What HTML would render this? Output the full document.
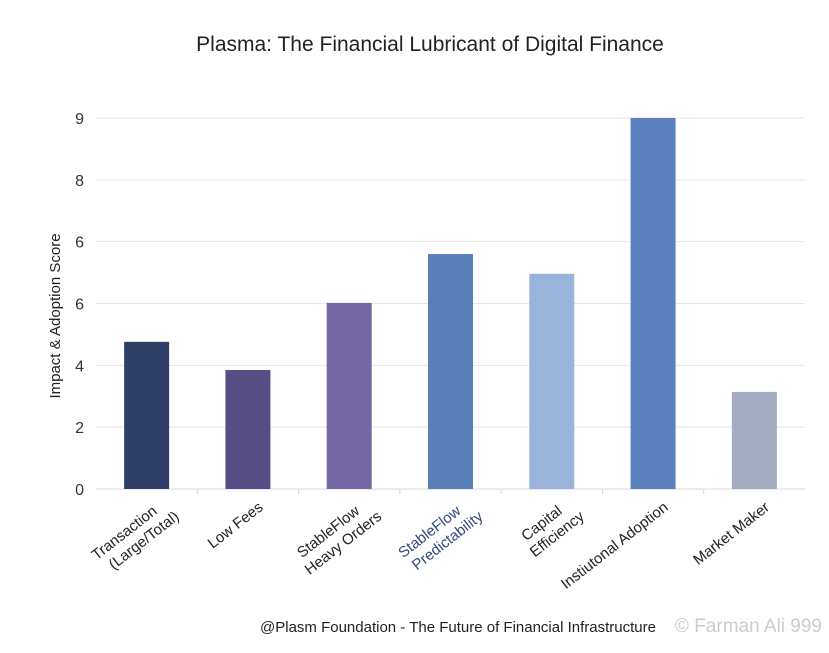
<!DOCTYPE html>
<html><head><meta charset="utf-8"><style>
body{margin:0;background:#fff;width:829px;height:648px;overflow:hidden;font-family:"Liberation Sans",sans-serif}
</style></head><body>
<svg width="829" height="648" xmlns="http://www.w3.org/2000/svg">
<text x="430" y="51" text-anchor="middle" font-size="21" fill="#222">Plasma: The Financial Lubricant of Digital Finance</text>
<text transform="translate(60,316) rotate(-90)" text-anchor="middle" font-size="15" fill="#222">Impact &amp; Adoption Score</text>
<g id="grid"></g><g id="bars"></g><g id="xl"></g>
<text x="458" y="632" text-anchor="middle" font-size="15" fill="#222">@Plasm Foundation - The Future of Financial Infrastructure</text>
<text x="822" y="632" text-anchor="end" font-size="19" fill="#ccc">© Farman Ali 999</text>
</svg>
<script>
const categories=[["Transaction","(Large/Total)"],["Low Fees"],["StableFlow","Heavy Orders"],["StableFlow","Predictability"],["Capital","Efficiency"],["Instiutonal Adoption"],["Market Maker"]];
const values=[4.76,3.85,6.02,7.6,6.96,12,3.14];
const colors=["#2e4068","#574e86","#7567a3","#5a7fb8","#98b4da","#5b80bd","#a2abc0"];
const tickValues=[0,2,4,6,8,10,12];
const tickLabels=["0","2","4","6","6","8","9"];
const NS="http://www.w3.org/2000/svg";
const x0=96,x1=805,y0=489,y1=118,yMax=12;
const y=v=>y0-(v/yMax)*(y0-y1);
const band=(x1-x0)/categories.length;
const xc=i=>x0+band*(i+0.5);
function mk(t,a,p){const e=document.createElementNS(NS,t);for(const k in a)e.setAttribute(k,a[k]);p.appendChild(e);return e;}
const g=document.getElementById('grid'),b=document.getElementById('bars'),xl=document.getElementById('xl');
tickValues.forEach((v,i)=>{
 const l=mk('line',{x1:x0,x2:x1,y1:y(v),y2:y(v),stroke:i==0?'#d8d8d8':'#e6e6e6','stroke-width':1},g);
 
 
 const t=mk('text',{x:84,y:y(v)+6,'text-anchor':'end','font-size':16,fill:'#333'},g);
 t.textContent=tickLabels[i];
 
 
});
for(let i=1;i<categories.length;i++){
 const tk=mk('line',{x1:x0+band*i,x2:x0+band*i,y1:y0,y2:y0+5,stroke:'#d8d8d8'},g);
 
 
}
const bw=45;
values.forEach((v,i)=>{
 const r=mk('rect',{x:xc(i)-bw/2,y:y(v),width:bw,height:y0-y(v),fill:colors[i]},b);
 
 
 const lines=categories[i];
 const t=mk('text',{transform:`translate(${xc(i)+16},${y0+20}) rotate(-38)`,'text-anchor':'end','font-size':15,fill:i==3?'#2f4a7a':'#222'},xl);
 
 
 lines.forEach((s,j)=>{const ts=mk('tspan',{dy:j?18:0},t);ts.setAttribute('x',lines.length>1?(j==0?-6:8):0);ts.textContent=s;});
});
</script>
</body></html>
